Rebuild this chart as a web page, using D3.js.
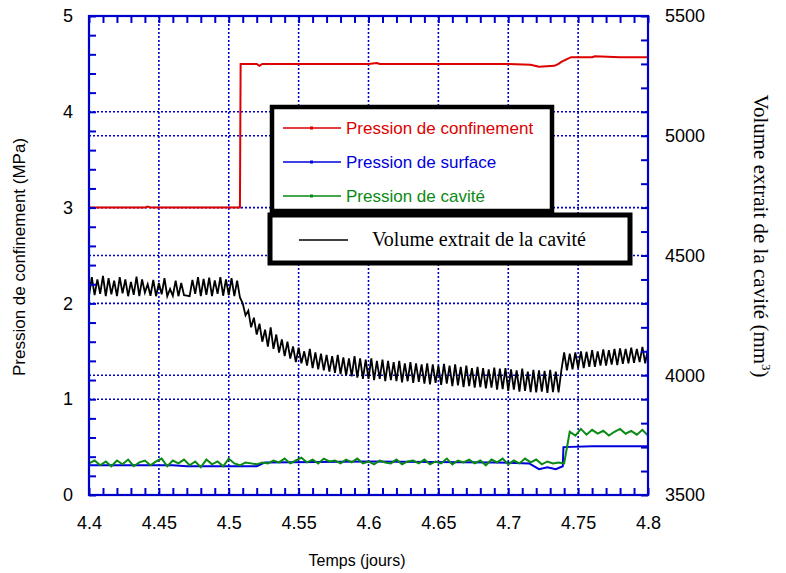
<!DOCTYPE html>
<html><head><meta charset="utf-8">
<script src="https://cdn.jsdelivr.net/npm/d3@7/dist/d3.min.js"></script>
<style>body{margin:0;background:#fff}svg{display:block}</style>
</head><body>
<script>
// ---------- DATA ----------
const xTicks = [4.4, 4.45, 4.5, 4.55, 4.6, 4.65, 4.7, 4.75, 4.8];
const yLeftTicks = [0, 1, 2, 3, 4, 5];
const yRightTicks = [3500, 4000, 4500, 5000, 5500];

// Pression de confinement (MPa)
const redT = [4.400, 4.440, 4.442, 4.444, 4.508, 4.5085, 4.520, 4.522, 4.524, 4.560, 4.600, 4.606, 4.608, 4.630, 4.700, 4.716, 4.722, 4.733, 4.736, 4.738, 4.742, 4.745, 4.760, 4.762, 4.780, 4.800];
const redV = [3.00, 3.00, 3.01, 3.00, 3.00, 4.50, 4.50, 4.48, 4.50, 4.50, 4.50, 4.51, 4.50, 4.50, 4.50, 4.49, 4.47, 4.48, 4.50, 4.52, 4.55, 4.57, 4.57, 4.58, 4.57, 4.57];

// Pression de surface (MPa)
const blueT = [4.400, 4.460, 4.470, 4.520, 4.526, 4.600, 4.690, 4.715, 4.722, 4.728, 4.734, 4.739, 4.7395, 4.760, 4.800];
const blueV = [0.31, 0.31, 0.30, 0.30, 0.34, 0.35, 0.34, 0.33, 0.27, 0.29, 0.27, 0.30, 0.50, 0.51, 0.51];

// Pression de cavité (MPa), sampled every 0.004 day from 4.400
const greenStart = 4.4, greenStep = 0.004;
const greenV = [
  0.33,0.36,0.31,0.35,0.30,0.36,0.32,0.37,0.30,0.34,
  0.36,0.31,0.35,0.38,0.30,0.36,0.33,0.37,0.31,0.35,
  0.29,0.37,0.32,0.35,0.30,0.38,0.33,0.31,0.34,0.33,
  0.32,0.34,0.33,0.36,0.34,0.38,0.33,0.36,0.39,0.34,
  0.37,0.33,0.38,0.35,0.36,0.33,0.37,0.34,0.38,0.33,
  0.35,0.32,0.36,0.34,0.33,0.37,0.32,0.35,0.36,0.33,
  0.37,0.32,0.35,0.33,0.38,0.32,0.36,0.34,0.37,0.33,
  0.36,0.31,0.37,0.34,0.38,0.32,0.36,0.33,0.38,0.34,
  0.37,0.32,0.35,0.33,0.34,0.33,0.66,0.62,0.69,0.63,
  0.68,0.64,0.67,0.62,0.66,0.69,0.64,0.67,0.63,0.68,
  0.62
];

// Volume extrait de la cavité (mm3), sampled every 0.002 day from 4.400
const blackStart = 4.4, blackStep = 0.002;
const blackV = [
  4330,4410,4335,4400,4340,4415,4330,4405,4338,4395,
  4330,4410,4342,4400,4330,4390,4336,4412,4330,4400,
  4345,4380,4332,4398,4330,4385,4338,4405,4330,4360,
  4332,4395,4330,4385,4334,4332,4330,4398,4340,4410,
  4330,4402,4336,4408,4330,4396,4340,4410,4332,4400,
  4335,4405,4330,4395,4325,4300,4250,4270,4200,4240,
  4170,4215,4140,4190,4120,4200,4110,4170,4095,4150,
  4080,4140,4070,4120,4055,4115,4050,4100,4040,4110,
  4030,4095,4025,4090,4020,4085,4015,4080,4010,4085,
  4005,4075,4000,4070,3995,4080,3990,4070,3985,4065,
  3985,4070,3980,4060,3985,4065,3975,4060,3980,4055,
  3975,4060,3970,4050,3975,4055,3968,4050,3972,4045,
  3965,4050,3962,4045,3968,4040,3960,4048,3965,4040,
  3955,4045,3958,4035,3950,4040,3955,4030,3948,4035,
  3950,4030,3945,4025,3948,4032,3940,4028,3942,4030,
  3935,4025,3940,4020,3932,4028,3935,4015,3930,4022,
  3928,4020,3932,4018,3926,4022,3930,4015,3928,4020,
  4095,4020,4090,4025,4095,4030,4100,4030,4098,4035,
  4105,4035,4100,4040,4108,4040,4105,4045,4110,4042,
  4112,4048,4110,4050,4115,4052,4110,4055,4118,4050,
  4112
];

const legendPressure = ["Pression de confinement", "Pression de surface", "Pression de cavité"];
const legendVolume = "Volume extrait de la cavité";

// ---------- CHART ----------
const W = 786, H = 573;
const L = 89, R = 648, T = 16, B = 495;
const AX = "#0000cc", RED = "#dd0000", BLUE = "#0000dd", GREEN = "#0a8a14";

const svg = d3.select("body").append("svg").attr("width", W).attr("height", H)
  .style("font-family", "'Liberation Sans', Arial, sans-serif");

const x = d3.scaleLinear().domain([4.4, 4.8]).range([L, R]);
const yL = d3.scaleLinear().domain([0, 5]).range([B, T]);
const yR = d3.scaleLinear().domain([3500, 5500]).range([B, T]);

// grid
const grid = svg.append("g").attr("stroke", AX).attr("stroke-width", 1.6).attr("stroke-dasharray", "2,2").attr("fill", "none");
xTicks.slice(1, -1).forEach(t => grid.append("line").attr("x1", x(t)).attr("x2", x(t)).attr("y1", T).attr("y2", B));
yLeftTicks.slice(1, -1).forEach(t => grid.append("line").attr("x1", L).attr("x2", R).attr("y1", yL(t)).attr("y2", yL(t)));
yRightTicks.slice(1, -1).forEach(t => grid.append("line").attr("x1", L).attr("x2", R).attr("y1", yR(t)).attr("y2", yR(t)));

// series
const lineL = d3.line().x(d => x(d[0])).y(d => yL(d[1]));
const lineR = d3.line().x(d => x(d[0])).y(d => yR(d[1]));
const blueData = blueT.map((t, i) => [t, blueV[i]]);
const greenData = greenV.map((v, i) => [greenStart + i * greenStep, v]);
const redData = redT.map((t, i) => [t, redV[i]]);
const blackData = blackV.map((v, i) => [blackStart + i * blackStep, v]);

svg.append("path").datum(blueData).attr("d", lineL).attr("fill", "none").attr("stroke", BLUE).attr("stroke-width", 2);
svg.append("path").datum(greenData).attr("d", lineL).attr("fill", "none").attr("stroke", GREEN).attr("stroke-width", 2);
svg.append("path").datum(redData).attr("d", lineL).attr("fill", "none").attr("stroke", RED).attr("stroke-width", 2);
svg.append("path").datum(blackData).attr("d", lineR).attr("fill", "none").attr("stroke", "#000").attr("stroke-width", 1.8);

// axes (frame with inward ticks)
const axG = svg.append("g");
function styleAxis(g) {
  g.select(".domain").remove();
  g.selectAll(".tick line").attr("stroke", AX).attr("stroke-width", 2);
  g.selectAll(".tick text").attr("fill", "#000").style("font-size", "18px").style("font-family", "'Liberation Sans', Arial, sans-serif");
}
// bottom
const xMinor = d3.range(0, 41).map(i => 4.4 + i * 0.01);
axG.append("g").attr("transform", `translate(0,${B})`)
  .call(d3.axisBottom(x).tickValues(xMinor).tickSize(-7).tickFormat(""))
  .call(styleAxis);
axG.append("g").attr("transform", `translate(0,${B})`)
  .call(d3.axisBottom(x).tickValues(xTicks).tickSize(0).tickPadding(21).tickFormat(d => d3.format("")(+d.toFixed(2))))
  .call(styleAxis);
// top
axG.append("g").attr("transform", `translate(0,${T})`)
  .call(d3.axisTop(x).tickValues(xMinor).tickSize(-7).tickFormat(""))
  .call(styleAxis);
// left
const yLMinor = d3.range(0, 26).map(i => i * 0.2);
axG.append("g").attr("transform", `translate(${L},0)`)
  .call(d3.axisLeft(yL).tickValues(yLMinor).tickSize(-7).tickFormat(""))
  .call(styleAxis);
axG.append("g").attr("transform", `translate(${L},0)`)
  .call(d3.axisLeft(yL).tickValues(yLeftTicks).tickSize(0).tickPadding(16).tickFormat(d3.format("d")))
  .call(styleAxis);
// right
const yRMinor = d3.range(0, 21).map(i => 3500 + i * 100);
axG.append("g").attr("transform", `translate(${R},0)`)
  .call(d3.axisRight(yR).tickValues(yRMinor).tickSize(-7).tickFormat(""))
  .call(styleAxis);
axG.append("g").attr("transform", `translate(${R},0)`)
  .call(d3.axisRight(yR).tickValues(yRightTicks).tickSize(0).tickPadding(17).tickFormat(d3.format("d")))
  .call(styleAxis);
// frame
svg.append("rect").attr("x", L).attr("y", T).attr("width", R - L).attr("height", B - T)
  .attr("fill", "none").attr("stroke", AX).attr("stroke-width", 2.2);

// axis titles
svg.append("text").attr("transform", `translate(25,257) rotate(-90)`).attr("text-anchor", "middle")
  .style("font-size", "17px").text("Pression de confinement (MPa)");
svg.append("text").attr("x", 357).attr("y", 566).attr("text-anchor", "middle")
  .style("font-size", "16px").text("Temps (jours)");
const rt = svg.append("text").attr("transform", `translate(754,236) rotate(90)`).attr("text-anchor", "middle")
  .style("font-family", "'Liberation Serif', 'Times New Roman', serif").style("font-size", "21px");
rt.append("tspan").text("Volume extrait de la cavité (mm");
rt.append("tspan").attr("dy", -8).style("font-size", "13px").text("3");
rt.append("tspan").attr("dy", 8).text(")");

// legend 1
const lg1 = svg.append("g");
lg1.append("rect").attr("x", 272).attr("y", 107).attr("width", 280).attr("height", 104)
  .attr("fill", "#fff").attr("stroke", "#000").attr("stroke-width", 4.5);
const lcol = [RED, BLUE, GREEN];
legendPressure.forEach((name, i) => {
  const yy = 128 + i * 34;
  lg1.append("line").attr("x1", 283).attr("x2", 341).attr("y1", yy).attr("y2", yy).attr("stroke", lcol[i]).attr("stroke-width", 1.5);
  lg1.append("rect").attr("x", 310).attr("y", yy - 1.5).attr("width", 3).attr("height", 3).attr("fill", lcol[i]);
  lg1.append("text").attr("x", 346).attr("y", yy + 6).attr("fill", lcol[i]).style("font-size", "17px").text(name);
});
// legend 2
const lg2 = svg.append("g");
lg2.append("rect").attr("x", 270).attr("y", 215).attr("width", 360).attr("height", 48)
  .attr("fill", "#fff").attr("stroke", "#000").attr("stroke-width", 5);
lg2.append("line").attr("x1", 299).attr("x2", 348).attr("y1", 240).attr("y2", 240).attr("stroke", "#000").attr("stroke-width", 1.5);
lg2.append("text").attr("x", 372).attr("y", 246).style("font-family", "'Liberation Serif', 'Times New Roman', serif")
  .style("font-size", "20px").text(legendVolume);
</script>
</body></html>
